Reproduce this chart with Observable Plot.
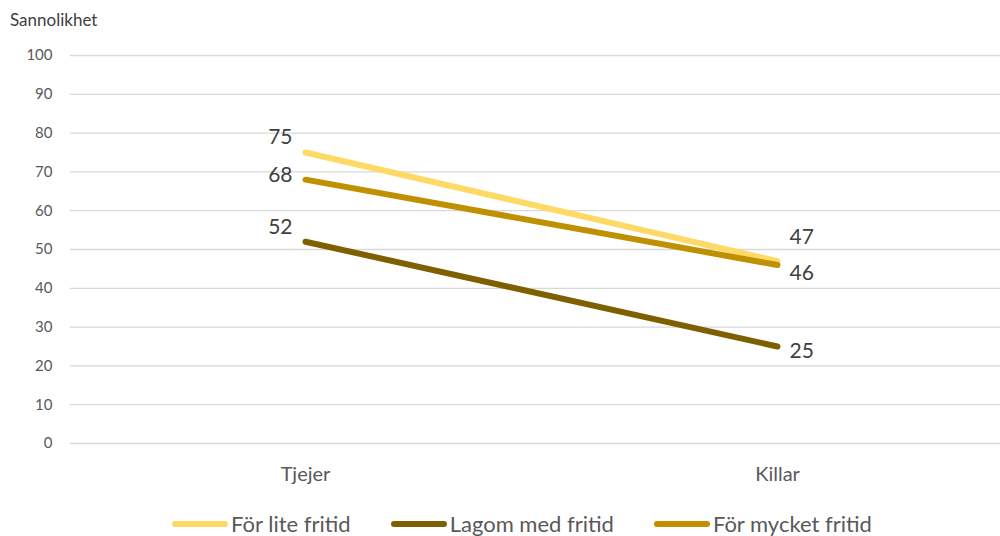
<!DOCTYPE html>
<html>
<head>
<meta charset="utf-8">
<script src="https://cdn.jsdelivr.net/npm/d3@7"></script>
<script src="https://cdn.jsdelivr.net/npm/@observablehq/plot@0.6"></script>
<style>
  body { margin: 0; background: #fff; font-family: Lato, "Open Sans", sans-serif; }
  #chart { position: relative; width: 1000px; }
  #ytitle { position: absolute; left: 10px; top: 9px; font-size: 17px; color: #404040; }
  #legend { display: flex; justify-content: center; gap: 40px; font-size: 22px; color: #595959; margin-top: 10px; padding-left: 44px; }
  .item { display: flex; align-items: center; }
  .sw { width: 56px; height: 6px; border-radius: 3px; margin-right: 3px; }
</style>
</head>
<body>
<div id="chart">
  <div id="ytitle">Sannolikhet</div>
  <div id="plot"></div>
  <div id="legend"></div>
</div>
<script>
const categories = ["Tjejer", "Killar"];
const seriesNames = ["För lite fritid", "Lagom med fritid", "För mycket fritid"];
const forLite = [75, 47];
const lagom = [52, 25];
const forMycket = [68, 46];
const colors = ["#FFD966", "#7F6000", "#BF9000"];
const yTicks = [0, 10, 20, 30, 40, 50, 60, 70, 80, 90, 100];

const seriesValues = [forLite, lagom, forMycket];
const data = [];
seriesNames.forEach((s, i) => categories.forEach((c, j) => data.push({series: s, cat: c, value: seriesValues[i][j]})));

const lab = (series, cat) => data.filter(d => d.series === series && d.cat === cat);
const labelStyle = {x: "cat", y: "value", text: d => String(d.value), fontSize: 21, fill: "#404040"};
const leftLabel = (series, dy) => Plot.text(lab(series, "Tjejer"), {...labelStyle, textAnchor: "end", dx: -13, dy});
const rightLabel = (series, dy) => Plot.text(lab(series, "Killar"), {...labelStyle, textAnchor: "start", dx: 12, dy});

const plot = Plot.plot({
  width: 1000,
  height: 500,
  marginTop: 55,
  marginBottom: 57,
  marginLeft: 70,
  marginRight: 0,
  style: {fontFamily: "Lato, 'Open Sans', sans-serif", color: "#404040", background: "#fff", overflow: "visible"},
  x: {type: "point", domain: categories, range: [305, 777], padding: 0, label: null},
  y: {domain: [0, 100], ticks: yTicks, label: null},
  color: {domain: seriesNames, range: colors},
  marks: [
    Plot.gridY(yTicks, {stroke: "#d9d9d9", strokeOpacity: 1, strokeWidth: 1.3}),
    Plot.axisY({ticks: yTicks, tickSize: 0, tickPadding: 18, fontSize: 15, fill: "#595959", label: null}),
    Plot.axisX({tickSize: 0, tickPadding: 23, fontSize: 20, fill: "#595959", label: null}),
    Plot.line(data, {x: "cat", y: "value", z: "series", stroke: "series", strokeWidth: 6, strokeLinecap: "round"}),
    leftLabel("För lite fritid", -15),
    leftLabel("För mycket fritid", -4),
    leftLabel("Lagom med fritid", -14),
    rightLabel("För lite fritid", -24),
    rightLabel("För mycket fritid", 8),
    rightLabel("Lagom med fritid", 5)
  ]
});
document.getElementById("plot").appendChild(plot);

const legend = document.getElementById("legend");
seriesNames.forEach((s, i) => {
  const it = document.createElement("div");
  it.className = "item";
  it.innerHTML = `<span class="sw" style="background:${colors[i]}"></span><span>${s}</span>`;
  legend.appendChild(it);
});
</script>
</body>
</html>
